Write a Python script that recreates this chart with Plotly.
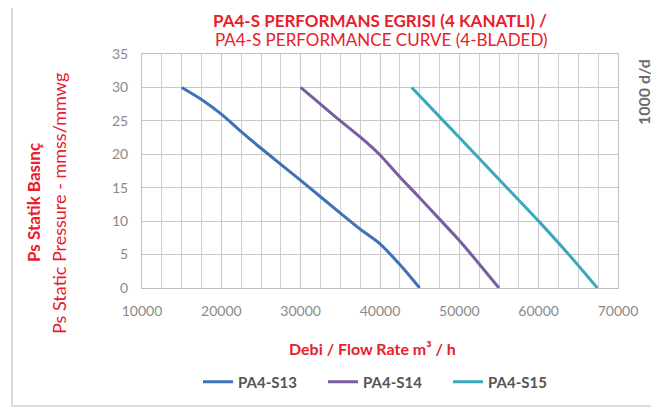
import plotly.graph_objects as go

s13_x = [15000, 17500, 20000, 22500, 25000, 30000, 35000, 37500, 40000, 42500, 45000]
s13_y = [30, 28.2, 26, 23.4, 20.9, 16.1, 11.2, 8.8, 6.6, 3.5, 0]
s14_x = [30000, 32500, 35000, 37500, 40000, 42500, 45000, 47500, 50000, 52500, 55000]
s14_y = [30, 27.5, 25, 22.6, 19.9, 16.6, 13.5, 10.3, 7.1, 3.6, 0]
s15_x = [44000, 48000, 52000, 56000, 60000, 63800, 67400]
s15_y = [30, 25, 20, 15, 10, 5, 0]

names = ["PA4-S13", "PA4-S14", "PA4-S15"]
colors = ["#3f72b5", "#7a5ca3", "#38a9bd"]

RED = "#e8202a"
GRAY = "#8a8a8a"
FONT = "Lato, sans-serif"

# the page body adds an 8px offset; work in target-image pixels, then shift
OFF = 8
W, H = 659 - OFF, 407 - OFF
L, R, T, B = 142 - OFF, 618 - OFF, 54 - OFF, 288 - OFF
PW, PH = R - L, B - T

fig = go.Figure()
for xs, ys, n, c in zip([s13_x, s14_x, s15_x], [s13_y, s14_y, s15_y], names, colors):
    fig.add_trace(go.Scatter(x=xs, y=ys, name=n, mode="lines",
                             line=dict(color=c, width=3, shape="spline", smoothing=0.8)))

fig.update_layout(
    width=W, height=H,
    margin=dict(l=L, r=W - R, t=T, b=H - B, autoexpand=False),
    paper_bgcolor="white", plot_bgcolor="white",
    font=dict(family=FONT, color=GRAY, size=14),
    showlegend=True,
    legend=dict(orientation="h", x=(198 - OFF) / W, xanchor="left", xref="container",
                yref="container", y=(407 - 382) / H, yanchor="middle",
                font=dict(size=15, color="#555", weight="bold"), itemwidth=30,
                entrywidth=80, entrywidthmode="pixels", tracegroupgap=0),
    xaxis=dict(range=[10000, 70000], dtick=10000, tick0=10000, tickformat="d",
               showgrid=True, automargin=False,
               gridcolor="#c8c8c8", gridwidth=1, zeroline=False,
               minor=dict(dtick=2500, showgrid=True, gridcolor="#d0d0d0"),
               showline=True, linecolor="#c0c0c0", linewidth=1, mirror=True,
               ticks="", tickfont=dict(size=14, color=GRAY), ticklabelstandoff=10),
    yaxis=dict(range=[0, 35], dtick=5, showgrid=True, gridcolor="#c8c8c8",
               automargin=False,
               zeroline=False, showline=True, linecolor="#c0c0c0", linewidth=1, mirror=True,
               ticks="", tickfont=dict(size=14, color=GRAY), ticklabelstandoff=10),
)


def px(x):
    return (x - OFF - L) / PW


def py(y):
    return (B - (y - OFF)) / PH


fig.add_annotation(text="<b>PA4-S PERFORMANS EGRISI (4 KANATLI) /</b>", xref="paper", yref="paper",
                   x=px(380), y=py(20), xanchor="center", yanchor="middle", showarrow=False,
                   font=dict(size=17, color=RED, family=FONT))
fig.add_annotation(text="PA4-S PERFORMANCE CURVE (4-BLADED)", xref="paper", yref="paper",
                   x=px(381), y=py(39), xanchor="center", yanchor="middle", showarrow=False,
                   font=dict(size=17, color=RED, family=FONT))
fig.add_annotation(text="<b>Debi / Flow Rate m³ / h</b>", xref="paper", yref="paper",
                   x=px(372), y=py(348), xanchor="center", yanchor="middle",
                   showarrow=False, font=dict(size=16, color=RED, family=FONT))
fig.add_annotation(text="<b>Ps Statik Basınç</b>", xref="paper", yref="paper",
                   x=px(33), y=py(203), textangle=-90,
                   xanchor="center", yanchor="middle", showarrow=False,
                   font=dict(size=17, color=RED, family=FONT))
fig.add_annotation(text="Ps Static Pressure - mmss/mmwg", xref="paper", yref="paper",
                   x=px(59), y=py(204), textangle=-90,
                   xanchor="center", yanchor="middle", showarrow=False,
                   font=dict(size=18, color=RED, family=FONT))
fig.add_annotation(text="<b>1000 d/d</b>", xref="paper", yref="paper",
                   x=px(643), y=py(92), textangle=-90,
                   xanchor="center", yanchor="middle", showarrow=False,
                   font=dict(size=16, color="#6b6b6b", family=FONT))

# outer frame (left, bottom edges visible)
fig.add_shape(type="rect", xref="paper", yref="paper",
              x0=px(12), x1=px(700), y0=py(406), y1=py(3),
              line=dict(color="#cfcfcf", width=1.5), layer="below")

fig.write_html("out.html")
